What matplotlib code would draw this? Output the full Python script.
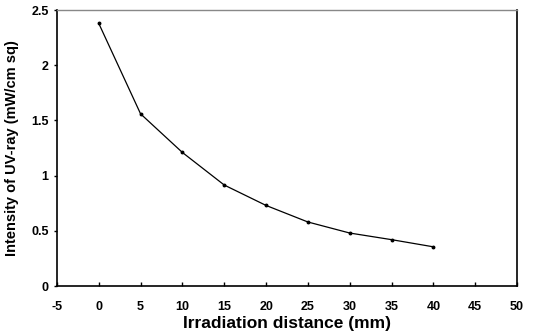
import matplotlib
matplotlib.use("Agg")
import matplotlib.pyplot as plt

distance = [0, 5, 10, 15, 20, 25, 30, 35, 40]
intensity = [2.38, 1.56, 1.21, 0.915, 0.73, 0.58, 0.48, 0.42, 0.355]
x_ticks = [-5, 0, 5, 10, 15, 20, 25, 30, 35, 40, 45, 50]
y_ticks = [0, 0.5, 1, 1.5, 2, 2.5]
y_ticklabels = ["0", "0.5", "1", "1.5", "2", "2.5"]

plt.rcParams['font.family'] = ['Liberation Sans', 'DejaVu Sans']

fig = plt.figure(figsize=(5.42, 3.34), dpi=100)
ax = fig.add_axes([0.105, 0.1437, 0.849, 0.826])
ax.plot(distance, intensity, color='black', linewidth=0.9, marker='o', markersize=1.8)
ax.set_xlim(-5, 50)
ax.set_ylim(0, 2.5)
ax.set_xticks(x_ticks)
ax.set_xticklabels([str(t) for t in x_ticks], fontsize=9, fontweight='bold')
ax.set_yticks(y_ticks)
ax.set_yticklabels(y_ticklabels, fontsize=9, fontweight='bold')
ax.tick_params(direction='in', length=3, width=1, pad=11)
ax.tick_params(axis='y', direction='out', length=2, pad=4)
for s in ['left', 'bottom', 'right']:
    ax.spines[s].set_linewidth(1.2)
ax.spines['top'].set_color('#888888')
ax.spines['top'].set_linewidth(1.0)
ax.set_xlabel('Irradiation distance (mm)', fontsize=12.5, fontweight='bold', labelpad=2)
ax.set_ylabel('Intensity of UV-ray (mW/cm sq)', fontsize=10.5, fontweight='bold', labelpad=9)
fig.savefig('out.png', dpi=100)
